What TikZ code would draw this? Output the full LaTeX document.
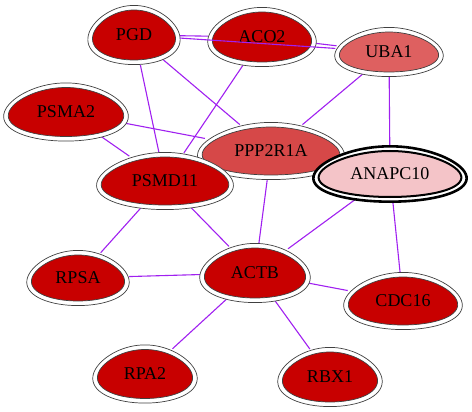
\documentclass[tikz,border=0pt]{standalone}
\usepackage{fontspec}
\setmainfont{Liberation Serif}
\usetikzlibrary{shapes.geometric}
\pgfdeclarelayer{edges}
\pgfdeclarelayer{eggs}
\pgfdeclarelayer{top}
\pgfsetlayers{edges,eggs,main,top}
\definecolor{ered}{HTML}{C80000}
\definecolor{emid}{HTML}{D64848}
\definecolor{elight}{HTML}{DE6060}
\definecolor{epink}{HTML}{F4C4C8}
\definecolor{epurple}{HTML}{A020F0}
\definecolor{egray}{HTML}{404040}
\newcommand\eggshape[2]{plot[domain=0:360,samples=73,variable=\t]
  ({(#1)*cos(\t)*(1+0.16*sin(\t))},{(#2)*sin(\t)}) -- cycle}
\newcommand\eggnode[4]{%
  \draw[eggouter,shift={(#1.center)}] \eggshape{#2-0.4}{#3-0.4};
  \draw[egginner,fill=#4,shift={(#1.center)}] \eggshape{#2-5}{#3-5};}
\tikzset{
  nd/.style={ellipse,inner sep=0pt,font=\fontsize{18}{19}\selectfont},
  eggouter/.style={draw=egray,line width=0.7pt,fill=white},
  egginner/.style={draw=egray,line width=0.7pt},
  edge/.style={draw=epurple,line width=1.1pt},
}
\begin{document}
\begin{tikzpicture}[x=1pt,y=-1pt]
\useasboundingbox (0,0) rectangle (472,412);
\node[nd,minimum width=92pt,minimum height=60pt] (PGD) at (134,35) {PGD};
\node[nd,minimum width=108pt,minimum height=60pt] (ACO2) at (262,37) {ACO2};
\node[nd,minimum width=108pt,minimum height=50pt] (UBA1) at (389,52) {UBA1};
\node[nd,minimum width=124pt,minimum height=59pt] (PSMA2) at (66,112) {PSMA2};
\node[nd,minimum width=146pt,minimum height=58pt] (PPP2R1A) at (271,151) {PPP2R1A};
\node[nd,minimum width=136pt,minimum height=58pt] (PSMD11) at (165,181) {PSMD11};
\node[nd,minimum width=154pt,minimum height=58pt] (ANAPC10) at (390,174) {ANAPC10};
\node[nd,minimum width=102pt,minimum height=56pt] (RPSA) at (78,278) {RPSA};
\node[nd,minimum width=110pt,minimum height=60pt] (ACTB) at (255,273) {ACTB};
\node[nd,minimum width=118pt,minimum height=58pt] (CDC16) at (403,301) {CDC16};
\node[nd,minimum width=104pt,minimum height=59pt] (RPA2) at (145,374) {RPA2};
\node[nd,minimum width=104pt,minimum height=60pt] (RBX1) at (330,377) {RBX1};
\begin{pgfonlayer}{edges}
\path[edge] (PGD) -- (ACO2);
\path[edge] (ACO2) -- (UBA1);
\path[edge] (PGD) -- (PSMD11);
\path[edge] (PGD) -- (PPP2R1A);
\path[edge] (ACO2) -- (PSMD11);
\path[edge] (UBA1) -- (PPP2R1A);
\path[edge] (UBA1) -- (ANAPC10);
\path[edge] (PSMA2) -- (PPP2R1A);
\path[edge] (PSMA2) -- (PSMD11);
\path[edge] (PSMD11) -- (RPSA);
\path[edge] (PSMD11) -- (ACTB);
\path[edge] (PPP2R1A) -- (ACTB);
\path[edge] (ANAPC10) -- (ACTB);
\path[edge] (ANAPC10) -- (CDC16);
\path[edge] (RPSA) -- (ACTB);
\path[edge] (ACTB) -- (CDC16);
\path[edge] (ACTB) -- (RPA2);
\path[edge] (ACTB) -- (RBX1);
\end{pgfonlayer}
\begin{pgfonlayer}{top}
\path[edge] (PGD) -- (UBA1);
\end{pgfonlayer}
\begin{pgfonlayer}{eggs}
\eggnode{PGD}{46}{30}{ered}
\eggnode{ACO2}{54}{30}{ered}
\eggnode{UBA1}{54}{25}{elight}
\eggnode{PSMA2}{62}{29.5}{ered}
\eggnode{PPP2R1A}{73}{29}{emid}
\eggnode{PSMD11}{68}{29}{ered}
\eggnode{RPSA}{51}{28}{ered}
\eggnode{ACTB}{55}{30}{ered}
\eggnode{CDC16}{59}{29}{ered}
\eggnode{RPA2}{52}{29.5}{ered}
\eggnode{RBX1}{52}{30}{ered}
\draw[line width=2.6pt,draw=black,fill=white,shift={(ANAPC10.center)}] \eggshape{75.7}{27.7};
\draw[line width=2pt,draw=black,fill=epink,shift={(ANAPC10.center)}] \eggshape{70.5}{23};
\end{pgfonlayer}
\end{tikzpicture}
\end{document}
